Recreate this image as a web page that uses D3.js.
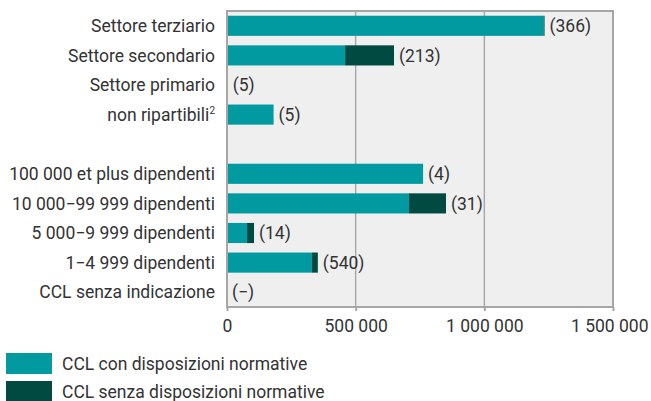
<!DOCTYPE html>
<html>
<head>
<meta charset="utf-8">
<script src="https://cdn.jsdelivr.net/npm/d3@7"></script>
<style>
  body { margin: 0; background: #fff; }
  text { font-family: Roboto, "Noto Sans", sans-serif; fill: #333; }
</style>
</head>
<body>
<svg id="chart" width="651" height="401"></svg>
<script>
// categories, blank entry is the spacer row
let categories = [
    'Settore terziario',
    'Settore secondario',
    'Settore primario',
    'non ripartibili',
    '',
    '100 000 et plus dipendenti',
    '10 000\u221299 999 dipendenti',
    '5 000\u22129 999 dipendenti',
    '1\u22124 999 dipendenti',
    'CCL senza indicazione'
];
let withProvisions = [1230000, 459000, 3000, 181000, null, 762000, 707000, 78000, 330000, 0];
let withoutProvisions = [4000, 190000, 0, 0, null, 0, 144000, 27000, 23000, 0];
let counts = ['(366)', '(213)', '(5)', '(5)', '', '(4)', '(31)', '(14)', '(540)', '(\u2212)'];
let ticks = [0, 500000, 1000000, 1500000];
let legendLabels = ['CCL con disposizioni normative', 'CCL senza disposizioni normative'];

var config = {
    left: 227,
    right: 613,
    top: 11,
    bottom: 307,
    teal: '#009aa0',
    dark: '#004a42',
    fontSize: 17.5
}

let svg = d3.select('#chart');

let x = d3.scaleLinear()
    .domain([0, 1500000])
    .range([config.left, config.right]);

let y = d3.scaleBand()
    .domain(d3.range(categories.length))
    .range([config.top, config.bottom])
    .paddingInner(0.32)
    .paddingOuter(0.16);

// plot background
svg.append('rect')
    .attr('x', config.left)
    .attr('y', config.top)
    .attr('width', config.right - config.left)
    .attr('height', config.bottom - config.top)
    .attr('fill', '#efefef');

// gridlines
svg.append('g')
    .selectAll('line')
    .data(ticks.slice(1, -1))
    .join('line')
    .attr('x1', d => x(d))
    .attr('x2', d => x(d))
    .attr('y1', config.top)
    .attr('y2', config.bottom)
    .attr('stroke', '#aaaaaa')
    .attr('stroke-width', 1.5);

// bars
let rows = svg.append('g')
    .selectAll('g')
    .data(d3.range(categories.length).filter(i => categories[i] !== ''))
    .join('g')
    .attr('transform', i => 'translate(0,' + y(i) + ')');

rows.append('rect')
    .attr('x', x(0))
    .attr('height', y.bandwidth())
    .attr('width', i => x(withProvisions[i]) - x(0))
    .attr('fill', config.teal);

rows.append('rect')
    .attr('x', i => x(withProvisions[i]))
    .attr('height', y.bandwidth())
    .attr('width', i => x(withProvisions[i] + withoutProvisions[i]) - x(withProvisions[i]))
    .attr('fill', config.dark);

rows.append('text')
    .attr('x', i => x(withProvisions[i] + withoutProvisions[i]) + 5)
    .attr('y', y.bandwidth() / 2)
    .attr('dy', '0.36em')
    .attr('font-size', config.fontSize)
    .text(i => counts[i]);

// category labels
let catLabels = rows.append('text')
    .attr('x', config.left - 12)
    .attr('y', y.bandwidth() / 2)
    .attr('dy', '0.36em')
    .attr('text-anchor', 'end')
    .attr('font-size', config.fontSize)
    .text(i => categories[i]);

catLabels.filter(i => categories[i] === 'non ripartibili')
    .append('tspan')
    .attr('font-size', 10)
    .attr('dy', '-0.7em')
    .text('2');

// frame
svg.append('rect')
    .attr('x', config.left)
    .attr('y', config.top)
    .attr('width', config.right - config.left)
    .attr('height', config.bottom - config.top)
    .attr('fill', 'none')
    .attr('stroke', '#a6a6a6')
    .attr('stroke-width', 2);

// x axis
let axis = svg.append('g')
    .attr('transform', 'translate(0,' + config.bottom + ')')
    .call(d3.axisBottom(x)
        .tickValues(ticks)
        .tickSize(4)
        .tickPadding(9)
        .tickFormat(d => d3.format(',')(d).replace(/,/g, ' ')));

axis.select('.domain').remove();
axis.selectAll('line').attr('stroke', '#a6a6a6').attr('stroke-width', 2);
axis.selectAll('text')
    .attr('font-size', config.fontSize)
    .attr('font-family', 'Roboto, sans-serif')
    .attr('fill', '#333');

// last label would run off the page, pull it inside
axis.selectAll('.tick text')
    .filter(d => d == ticks[ticks.length - 1])
    .attr('text-anchor', 'end')
    .attr('x', 35);

// legend
let legend = svg.append('g')
    .selectAll('g')
    .data(legendLabels)
    .join('g')
    .attr('transform', (d, i) => 'translate(6,' + (353 + i * 28) + ')');

legend.append('rect')
    .attr('width', 46)
    .attr('height', 21)
    .attr('fill', (d, i) => i == 0 ? config.teal : config.dark);

legend.append('text')
    .attr('x', 56)
    .attr('y', 10.5)
    .attr('dy', '0.36em')
    .attr('font-size', config.fontSize)
    .text(d => d);
</script>
</body>
</html>
